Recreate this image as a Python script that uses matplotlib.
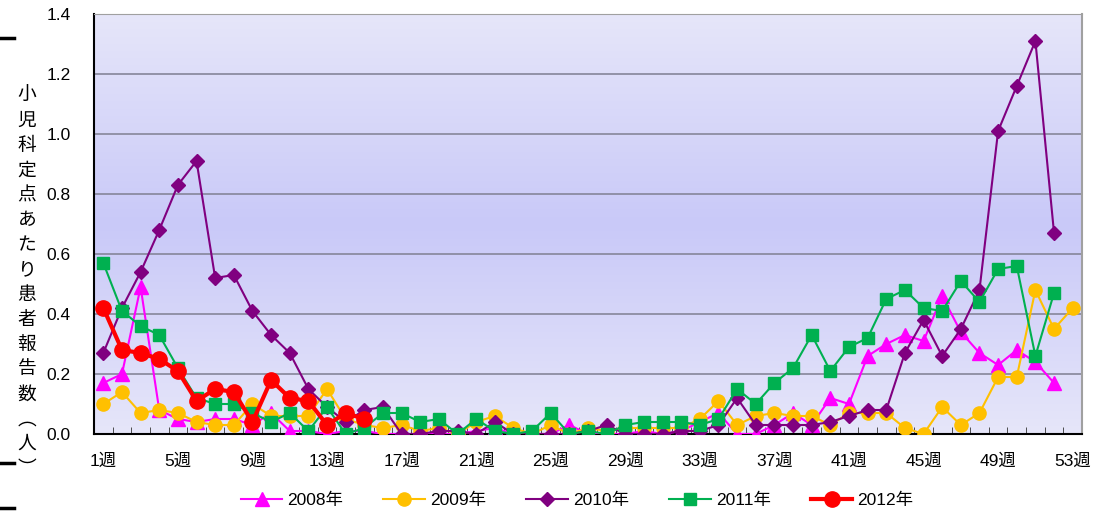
import numpy as np
import matplotlib.pyplot as plt
from matplotlib.colors import LinearSegmentedColormap
from matplotlib.lines import Line2D

plt.rcParams['font.family'] = ['Liberation Sans', 'Noto Sans CJK JP', 'DejaVu Sans']

weeks = list(range(1, 54))
tick_weeks = [1, 5, 9, 13, 17, 21, 25, 29, 33, 37, 41, 45, 49, 53]

y2008 = [0.17, 0.20, 0.49, 0.08, 0.05, 0.04, 0.05, 0.05, 0.03, 0.07, 0.01, 0.01, 0.00,
         0.01, 0.01, 0.00, 0.00, 0.00, 0.00, 0.00, 0.01, 0.02, 0.00, 0.00, 0.00, 0.03,
         0.00, 0.00, 0.00, 0.01, 0.00, 0.01, 0.04, 0.07, 0.00, 0.00, 0.03, 0.07, 0.03,
         0.12, 0.10, 0.26, 0.30, 0.33, 0.31, 0.46, 0.34, 0.27, 0.23, 0.28, 0.24, 0.17]
y2009 = [0.10, 0.14, 0.07, 0.08, 0.07, 0.04, 0.03, 0.03, 0.10, 0.06, 0.06, 0.06, 0.15,
         0.05, 0.03, 0.02, 0.03, 0.01, 0.02, 0.00, 0.04, 0.06, 0.02, 0.00, 0.03, 0.00,
         0.02, 0.01, 0.02, 0.02, 0.02, 0.02, 0.05, 0.11, 0.03, 0.06, 0.07, 0.06, 0.06,
         0.03, 0.07, 0.07, 0.07, 0.02, 0.00, 0.09, 0.03, 0.07, 0.19, 0.19, 0.48, 0.35, 0.42]
y2010 = [0.27, 0.42, 0.54, 0.68, 0.83, 0.91, 0.52, 0.53, 0.41, 0.33, 0.27, 0.15, 0.09,
         0.04, 0.08, 0.09, 0.00, 0.00, 0.01, 0.01, 0.00, 0.04, 0.00, 0.00, 0.00, 0.00,
         0.01, 0.03, 0.00, 0.00, 0.00, 0.01, 0.01, 0.03, 0.12, 0.03, 0.03, 0.03, 0.03,
         0.04, 0.06, 0.08, 0.08, 0.27, 0.38, 0.26, 0.35, 0.48, 1.01, 1.16, 1.31, 0.67]
y2011 = [0.57, 0.41, 0.36, 0.33, 0.22, 0.12, 0.10, 0.10, 0.07, 0.04, 0.07, 0.01, 0.09,
         0.00, 0.02, 0.07, 0.07, 0.04, 0.05, 0.00, 0.05, 0.01, 0.00, 0.01, 0.07, 0.00,
         0.01, 0.00, 0.03, 0.04, 0.04, 0.04, 0.03, 0.05, 0.15, 0.10, 0.17, 0.22, 0.33,
         0.21, 0.29, 0.32, 0.45, 0.48, 0.42, 0.41, 0.51, 0.44, 0.55, 0.56, 0.26, 0.47]
y2012 = [0.42, 0.28, 0.27, 0.25, 0.21, 0.11, 0.15, 0.14, 0.04, 0.18, 0.12, 0.11, 0.03,
         0.07, 0.05]

series = [
    ("2008年", y2008, "#FF00FF", "^", 10, 1.5),
    ("2009年", y2009, "#FFC000", "o", 9.5, 1.5),
    ("2010年", y2010, "#800080", "D", 7.5, 1.5),
    ("2011年", y2011, "#00B050", "s", 8, 1.5),
    ("2012年", y2012, "#FF0000", "o", 11, 3),
]

fig = plt.figure(figsize=(11.12, 5.13), dpi=100)
ax = fig.add_axes([94 / 1112, 79 / 513, 988 / 1112, 420 / 513])

# background gradient of the plot area
cmap = LinearSegmentedColormap.from_list(
    "bg", [(0, "#E6E6FA"), (0.5, "#C9C9F8"), (1, "#E6E6FA")])
grad = np.linspace(0, 1, 256).reshape(-1, 1)
ax.imshow(grad, cmap=cmap, aspect="auto", extent=[0.5, 53.5, 0, 1.4],
          origin="lower", zorder=0)

for yv in [0.2, 0.4, 0.6, 0.8, 1.0, 1.2]:
    ax.axhline(yv, color="#86869A", lw=1.2, zorder=1)

for label, vals, color, mk, ms, lw in series:
    ax.plot(weeks[:len(vals)], vals, color=color, marker=mk, markersize=ms,
            lw=lw, label=label, zorder=3)

ax.set_xlim(0.5, 53.5)
ax.set_ylim(0, 1.4)
ax.set_xticks(tick_weeks)
ax.set_xticklabels([f"{w}週" for w in tick_weeks], fontsize=12.5)
ax.set_xticks(np.arange(1.5, 53, 1), minor=True)
ax.tick_params(axis="x", which="major", length=0, pad=14)
ax.tick_params(axis="x", which="minor", direction="in", length=5, color="#333333")
yticks = [0, 0.2, 0.4, 0.6, 0.8, 1.0, 1.2, 1.4]
ax.set_yticks(yticks)
ax.set_yticklabels([f"{v:.1f}" for v in yticks], fontsize=12.5)
ax.tick_params(axis="y", length=0, pad=17)

ax.spines["left"].set_color("black")
ax.spines["left"].set_linewidth(1.5)
ax.spines["bottom"].set_color("black")
ax.spines["bottom"].set_linewidth(1.5)
ax.spines["top"].set_color("#A0A0A0")
ax.spines["right"].set_color("#A0A0A0")
ax.spines["right"].set_linewidth(1.5)

fig.text(27 / 1112, 1 - 282 / 513, "\n".join("小児科定点あたり患者報告数︵人︶"),
         ha="center", va="center", fontsize=13.5, linespacing=1.24,
         family=["Noto Sans CJK JP", "DejaVu Sans"])

leg = fig.legend(loc="center", bbox_to_anchor=(0.519, 1 - 500 / 513), ncol=5,
                 frameon=False, fontsize=12.5, handlelength=2.4, handletextpad=0.3,
                 columnspacing=2.3)

# short black marks at the left edge
for yp in [38, 463, 508]:
    fig.add_artist(Line2D([0, 14 / 1112], [1 - yp / 513, 1 - yp / 513],
                          color="black", lw=2.5))

fig.savefig("out.png", dpi=100)
